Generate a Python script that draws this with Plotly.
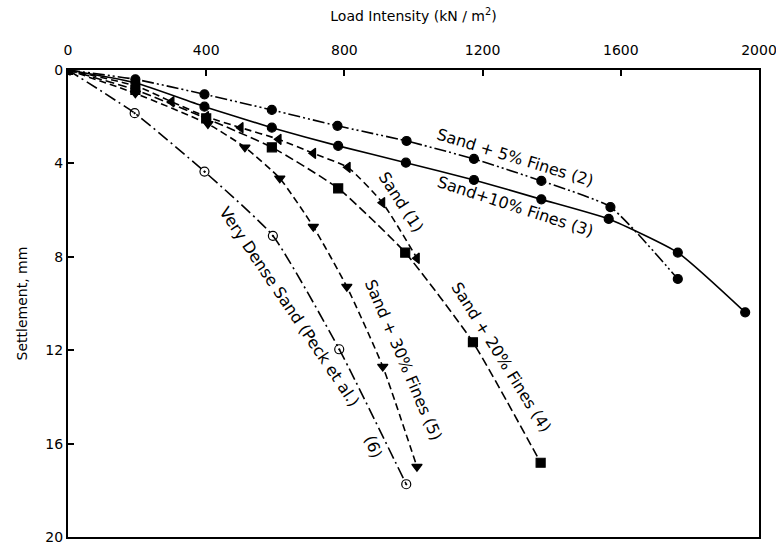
import plotly.graph_objects as go

# Load intensity (kN/m^2) and settlement (mm) for each curve
sand1_x = [0, 200, 300, 400, 500, 610, 710, 810, 910, 1010]
sand1_y = [0, 0.7, 1.36, 2.0, 2.47, 2.97, 3.57, 4.17, 5.68, 8.06]

fines5_x = [0, 195, 395, 590, 780, 980, 1175, 1370, 1570, 1765]
fines5_y = [0, 0.4, 1.04, 1.71, 2.39, 3.04, 3.81, 4.75, 5.87, 8.95]

fines10_x = [0, 195, 395, 590, 782, 978, 1175, 1370, 1565, 1765, 1960]
fines10_y = [0, 0.55, 1.57, 2.47, 3.25, 3.97, 4.71, 5.54, 6.38, 7.82, 10.38]

fines20_x = [0, 195, 400, 590, 782, 976, 1172, 1368]
fines20_y = [0, 0.85, 2.07, 3.31, 5.07, 7.82, 11.66, 16.82]

fines30_x = [0, 195, 405, 512, 613, 710, 807, 911, 1010]
fines30_y = [0, 1.0, 2.31, 3.31, 4.64, 6.71, 9.28, 12.7, 16.99]

peck_x = [0, 193, 395, 593, 785, 979]
peck_y = [0, 1.85, 4.35, 7.1, 11.96, 17.74]

x_ticks = [0, 400, 800, 1200, 1600, 2000]
y_ticks = [0, 4, 8, 12, 16, 20]

FONT = "DejaVu Sans"
fig = go.Figure()

def add(x, y, dash, symbol, msize=9):
    fig.add_trace(go.Scatter(
        x=x, y=y, mode="lines+markers",
        line=dict(color="black", width=1.6, dash=dash, shape="spline", smoothing=0.5),
        marker=dict(symbol=symbol, size=msize, color="black",
                    line=dict(color="black", width=1.2)),
        showlegend=False))

add(fines5_x, fines5_y, "12px,3px,2px,3px,2px,3px", "circle")
add(fines10_x, fines10_y, "solid", "circle")
add(sand1_x, sand1_y, "7px,4px", "triangle-left")
add(fines20_x, fines20_y, "9px,4px", "square")
add(fines30_x, fines30_y, "7px,4px", "triangle-down")
add(peck_x, peck_y, "12px,4px,2px,4px", "circle-open-dot", 9)

labels = [
    ("Sand + 5% Fines (2)", 1294, 3.73, 17),
    ("Sand+10% Fines (3)", 1295, 5.85, 18),
    ("Sand (1)", 965, 5.67, 57),
    ("Sand + 20% Fines (4)", 1255, 12.3, 58),
    ("Sand + 30% Fines (5)", 970, 12.4, 67),
    ("Very Dense Sand (Peck et al.)", 640, 10.14, 56),
    ("(6)", 883, 16.13, 70),
]
for text, lx, ly, ang in labels:
    fig.add_annotation(x=lx, y=ly, text=text, showarrow=False, textangle=ang,
                       font=dict(family=FONT, size=16, color="black"))

fig.update_layout(
    width=776, height=547,
    margin=dict(l=68, r=17, t=70, b=10, autoexpand=False),
    paper_bgcolor="white", plot_bgcolor="white",
    font=dict(family=FONT, size=14, color="black"),
    xaxis=dict(side="top", range=[0, 2000], tickvals=x_ticks, automargin=False,
               ticks="inside", ticklen=6, tickwidth=1.5, tickcolor="black",
               ticklabeloverflow="allow", ticklabelstandoff=7,
               showline=True, linecolor="black", linewidth=2, mirror=True,
               showgrid=False, zeroline=False,
               title=dict(text="Load Intensity (kN / m<sup>2</sup>)",
                          font=dict(size=14), standoff=18)),
    yaxis=dict(range=[20, 0], tickvals=y_ticks, automargin=False,
               ticks="inside", ticklen=6, tickwidth=1.5, tickcolor="black",
               showline=True, linecolor="black", linewidth=2, mirror=True,
               showgrid=False, zeroline=False,
               title=dict(text="Settlement, mm", font=dict(size=14), standoff=14)),
)

fig.write_html("out.html")
